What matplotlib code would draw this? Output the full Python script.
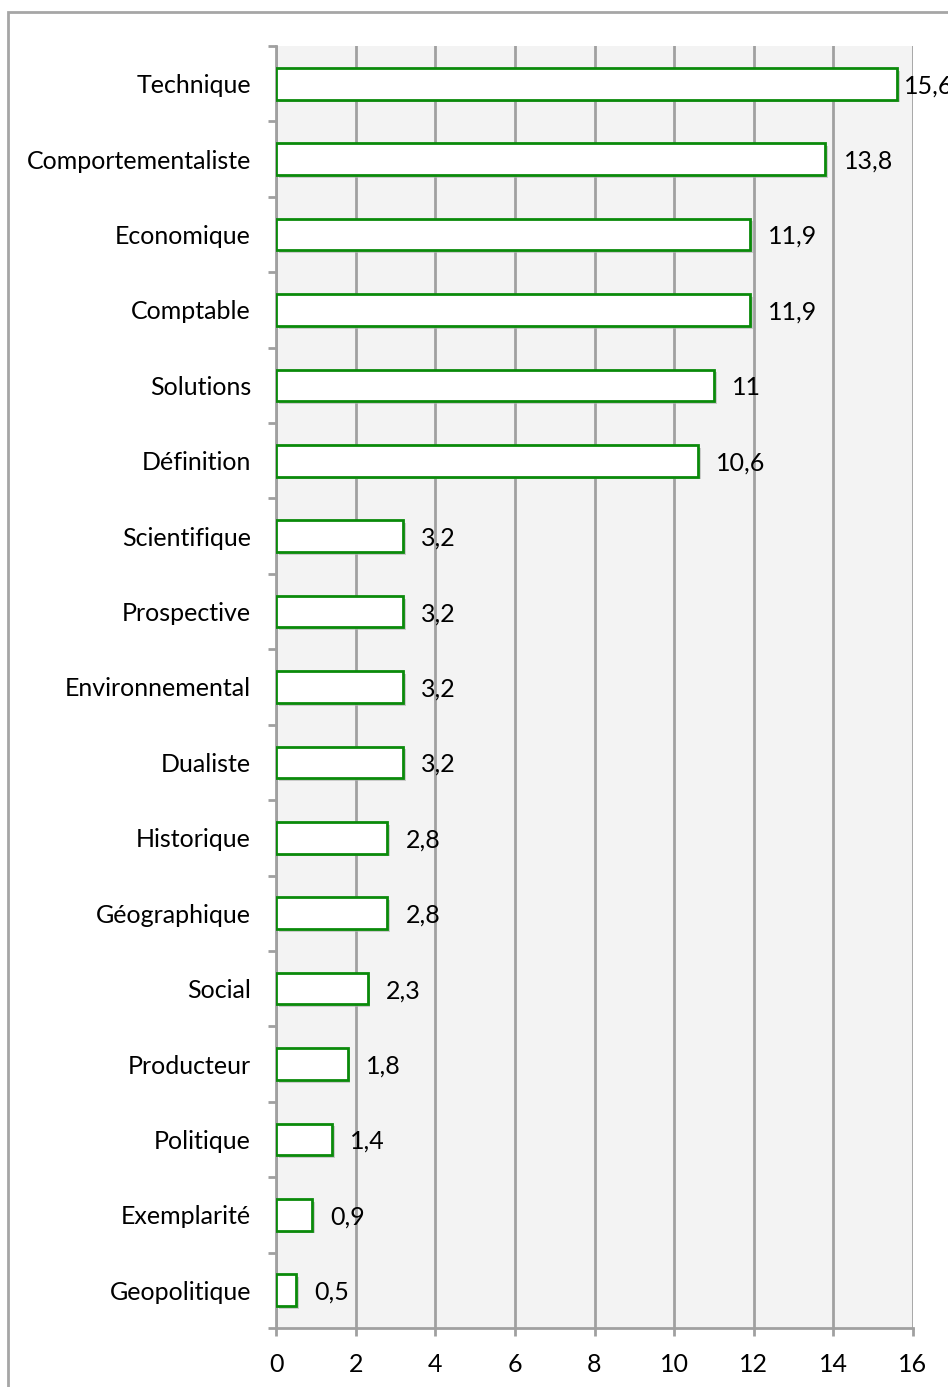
import matplotlib.pyplot as plt
import matplotlib.patheffects as pe
from matplotlib.patches import Rectangle
from matplotlib.ticker import FixedLocator

# Data (top to bottom)
categories = ["Technique", "Comportementaliste", "Economique", "Comptable", "Solutions",
              "Définition", "Scientifique", "Prospective", "Environnemental", "Dualiste",
              "Historique", "Géographique", "Social", "Producteur", "Politique",
              "Exemplarité", "Geopolitique"]
values = [15.6, 13.8, 11.9, 11.9, 11, 10.6, 3.2, 3.2, 3.2, 3.2, 2.8, 2.8, 2.3, 1.8, 1.4, 0.9, 0.5]
xticks = [0, 2, 4, 6, 8, 10, 12, 14, 16]

plt.rcParams['font.family'] = ['Lato', 'DejaVu Sans']
grey = "#a0a0a0"
fs = 18

fig = plt.figure(figsize=(9.48, 13.87), dpi=100)
ax = fig.add_axes([276 / 948, 1 - 1328 / 1387, (913 - 276) / 948, (1328 - 46) / 1387])
ax.set_facecolor("#f3f3f3")

# outer chart frame
fig.patches.append(Rectangle((8 / 948, -0.05), 1.2, 1 - 12 / 1387 + 0.05, transform=fig.transFigure,
                             fill=False, edgecolor="#a6a6a6", lw=2, zorder=0))

n = len(categories)
ypos = list(range(n))
bars = ax.barh(ypos, values, height=0.42, color="white", edgecolor="#0a8a0a", lw=2, zorder=3)
for b in bars:
    b.set_path_effects([pe.SimplePatchShadow(offset=(2, -2), shadow_rgbFace="#b0b0b0", alpha=0.6), pe.Normal()])

ax.set_ylim(n - 0.5, -0.5)
ax.set_xlim(0, 16)
ax.set_xticks(xticks)
ax.set_xticklabels([str(t) for t in xticks], fontsize=fs)
ax.set_yticks(ypos)
ax.set_yticklabels(categories, fontsize=fs, va="center_baseline")
ax.yaxis.set_minor_locator(FixedLocator([i - 0.5 for i in range(n + 1)]))
ax.tick_params(axis="y", which="major", length=0, pad=18)
ax.tick_params(axis="y", which="minor", length=6, width=2, color=grey)
ax.tick_params(axis="x", length=6, width=2, color=grey, pad=12)

ax.xaxis.grid(True, color=grey, lw=2, zorder=1)
ax.set_axisbelow(True)
for s in ["top", "right"]:
    ax.spines[s].set_visible(False)
for s in ["left", "bottom"]:
    ax.spines[s].set_color(grey)
    ax.spines[s].set_linewidth(2)

for y, v in zip(ypos, values):
    txt = f"{v:g}".replace(".", ",")
    off = 5 if v == max(values) else 13
    ax.annotate(txt, (v, y), xytext=(off, 0), textcoords="offset points",
                va="center_baseline", ha="left", fontsize=fs, annotation_clip=False)

fig.savefig("out.png", dpi=100)
